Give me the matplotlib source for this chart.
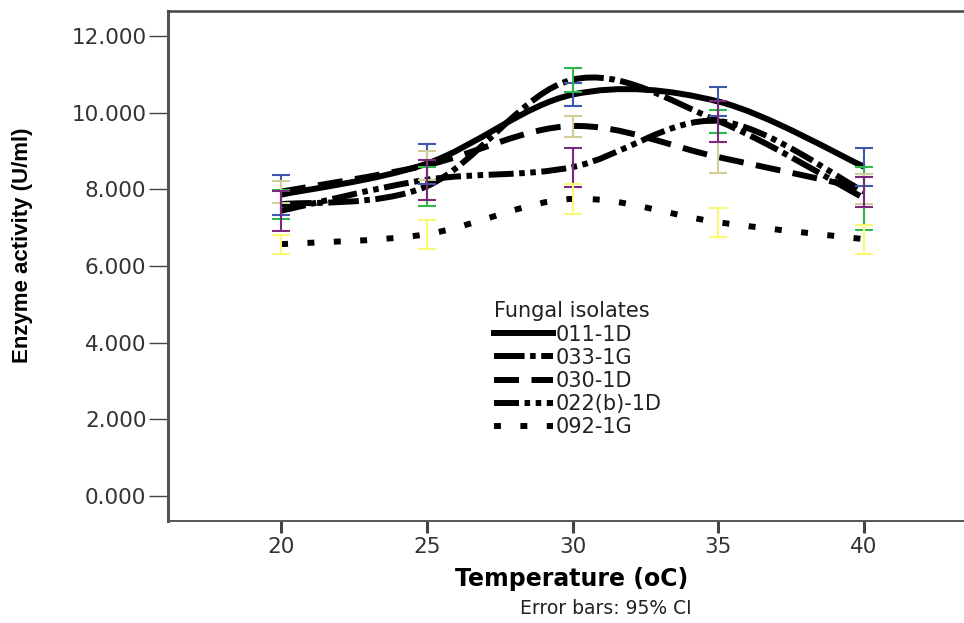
import matplotlib
matplotlib.use("Agg")
import matplotlib.pyplot as plt
from matplotlib.path import Path
from matplotlib.patches import PathPatch
from matplotlib.lines import Line2D
import numpy as np

plt.rcParams['font.family'] = ['DejaVu Sans']
plt.rcParams['lines.scale_dashes'] = False

temps = [20, 25, 30, 35, 40]
isolates = ["011-1D", "033-1G", "030-1D", "022(b)-1D", "092-1G"]

# means (U/ml)
m_011 = [7.86, 8.67, 10.47, 10.29, 8.59]
m_033 = [7.61, 8.08, 10.86, 9.78, 7.77]
m_030 = [7.94, 8.63, 9.65, 8.84, 8.02]
m_022 = [7.44, 8.25, 8.58, 9.78, 7.94]
m_092 = [6.57, 6.83, 7.75, 7.14, 6.70]

# 95% CI lower / upper
lo_011 = [7.34, 8.15, 10.18, 9.90, 8.09]
hi_011 = [8.38, 9.19, 10.76, 10.68, 9.09]
lo_033 = [7.23, 7.57, 10.55, 9.48, 6.95]
hi_033 = [7.99, 8.59, 11.17, 10.08, 8.59]
lo_030 = [7.65, 8.25, 9.37, 8.43, 7.62]
hi_030 = [8.22, 9.01, 9.92, 9.24, 8.41]
lo_022 = [6.92, 7.73, 8.07, 9.24, 7.55]
hi_022 = [7.96, 8.77, 9.09, 10.31, 8.33]
lo_092 = [6.32, 6.45, 7.36, 6.76, 6.32]
hi_092 = [6.81, 7.21, 8.15, 7.52, 7.08]

means = [m_011, m_033, m_030, m_022, m_092]
lows = [lo_011, lo_033, lo_030, lo_022, lo_092]
highs = [hi_011, hi_033, hi_030, hi_022, hi_092]
bar_colors = ["#3E58AC", "#2EB848", "#D3CE97", "#7C287D", "#FBF873"]
styles = ["solid", (0, (22, 4, 4, 4)), (0, (18, 9)),
          (0, (18, 4, 4, 4, 4, 4)), (0, (5, 14))]


def smooth_path(xs, ys):
    # catmull-rom through the points, drawn as cubic bezier segments
    p = np.column_stack([xs, ys]).astype(float)
    ext = np.vstack([p[0], p, p[-1]])
    verts = [p[0]]
    codes = [Path.MOVETO]
    for i in range(1, len(ext) - 2):
        c1 = ext[i] + (ext[i + 1] - ext[i - 1]) / 6
        c2 = ext[i + 1] - (ext[i + 2] - ext[i]) / 6
        verts += [c1, c2, ext[i + 1]]
        codes += [Path.CURVE4] * 3
    return Path(verts, codes)


fig = plt.figure(figsize=(9.64, 6.23), dpi=100)
ax = fig.add_axes([168 / 964, 102 / 623, 796 / 964, 510 / 623])

for k in range(5):
    patch = PathPatch(smooth_path(temps, means[k]), fill=False, edgecolor="black",
                      linewidth=4.3, linestyle=styles[k], zorder=2)
    ax.add_patch(patch)

for k in range(5):
    m = np.array(means[k])
    err = [m - np.array(lows[k]), np.array(highs[k]) - m]
    ax.errorbar(temps, m, yerr=err, fmt="none", ecolor=bar_colors[k],
                elinewidth=1.5, capsize=6.5, capthick=1.5, zorder=3)

ax.set_xlim(16.12, 43.43)
ax.set_ylim(-0.65, 12.65)
ax.set_xticks(temps)
ax.set_yticks([0, 2, 4, 6, 8, 10, 12])
ax.set_yticklabels(["%.3f" % v for v in [0, 2, 4, 6, 8, 10, 12]])

ax.spines["right"].set_visible(False)
ax.spines["left"].set_linewidth(2.2)
ax.spines["left"].set_color("#555555")
ax.spines["bottom"].set_linewidth(1.4)
ax.spines["bottom"].set_color("#555555")
ax.spines["top"].set_linewidth(1.8)
ax.spines["top"].set_color("#444444")

ax.tick_params(axis="y", length=13.5, width=1, color="#444444", pad=2,
               labelsize=15.5, labelcolor="#333333")
ax.tick_params(axis="x", length=8.5, width=2.2, color="#444444", pad=3,
               labelsize=15.5, labelcolor="#333333")

ax.set_xlabel("Temperature (oC)", fontsize=17, fontweight="bold")
ax.xaxis.set_label_coords(0.5075, -0.114)
ax.xaxis.label.set_va("center")
ax.set_ylabel("Enzyme activity (U/ml)", fontsize=16, fontweight="bold",
              family=["Liberation Sans Narrow", "Liberation Sans"])
ax.yaxis.set_label_coords(-0.183, 0.541)
ax.yaxis.label.set_va("center")

fig.text(606 / 964, 14 / 623, "Error bars: 95% CI", ha="center", va="center",
         fontsize=13.5, color="#222222")

handles = [Line2D([], [], color="black", linewidth=4.3, linestyle=styles[k])
           for k in range(5)]
leg = ax.legend(handles, isolates, title="Fungal isolates", loc="upper left",
                bbox_to_anchor=(484 / 964, 332 / 623), bbox_transform=fig.transFigure,
                frameon=False, fontsize=15, title_fontsize=15, handlelength=2.8,
                handletextpad=0.12, labelspacing=0.15, borderpad=0,
                alignment="left")
for t in leg.get_texts():
    t.set_color("#222222")
leg.get_title().set_color("#222222")

fig.savefig("out.png", dpi=100)
